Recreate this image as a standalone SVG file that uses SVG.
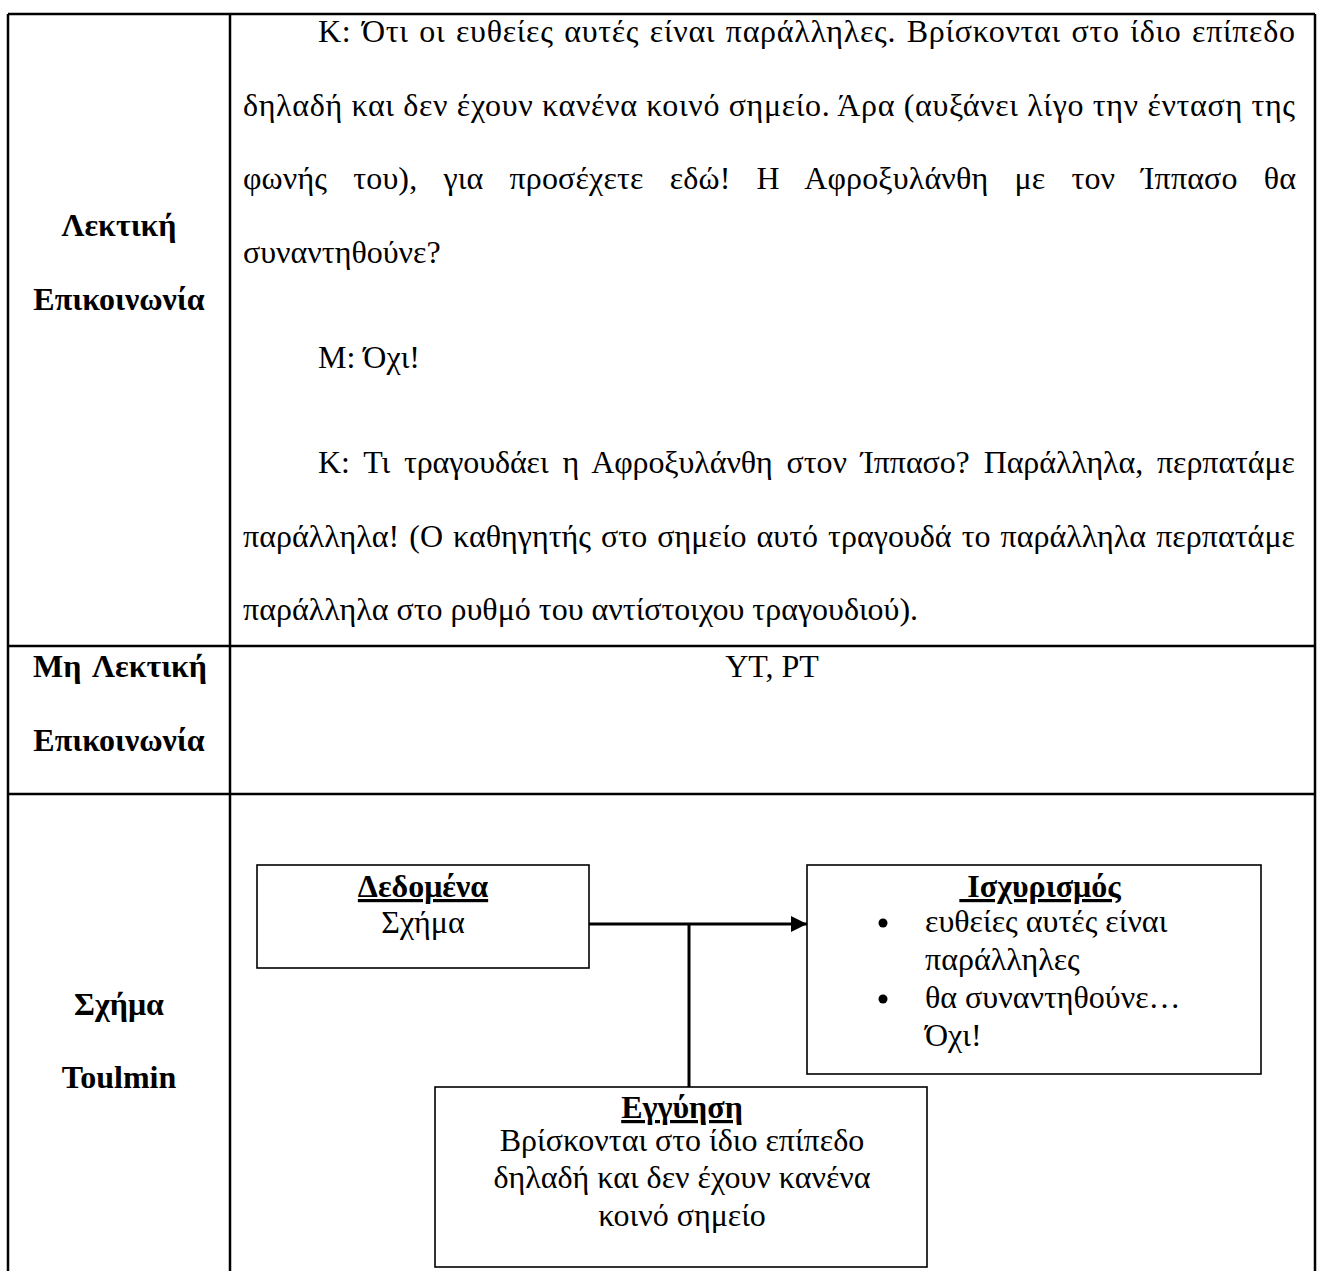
<svg xmlns="http://www.w3.org/2000/svg" width="1323" height="1271" viewBox="0 0 1323 1271">
  <style>
    .grid { stroke: #000; stroke-width: 2.5; fill: none; }
    .box { stroke: #000; stroke-width: 1.6; fill: #fff; }
    .wire { stroke: #000; stroke-width: 3; fill: none; }
    text { font-family: "Liberation Serif", "Times New Roman", serif; font-size: 32px; fill: #000; }
    .lbl { font-weight: bold; }
    .mid { text-anchor: middle; }
    .end { text-anchor: end; }
    .head { font-weight: bold; text-decoration: underline; }
  </style>
  <defs>
    <marker id="arrow" viewBox="0 0 16 16" refX="16" refY="8" markerWidth="16" markerHeight="16" markerUnits="userSpaceOnUse" orient="auto">
      <path d="M0,0 L16,8 L0,16 Z" fill="#000"/>
    </marker>
  </defs>

  <rect width="1323" height="1271" fill="#fff"/>

  <!-- table rules -->
  <g id="table">
    <line class="grid" x1="8" y1="14" x2="1315" y2="14"/>
    <line class="grid" x1="8" y1="14" x2="8" y2="1271"/>
    <line class="grid" x1="230" y1="14" x2="230" y2="1271"/>
    <line class="grid" x1="1315" y1="14" x2="1315" y2="1271"/>
    <line class="grid" x1="8" y1="646" x2="1315" y2="646"/>
    <line class="grid" x1="8" y1="794" x2="1315" y2="794"/>
  </g>

  <!-- row 1: verbal communication -->
  <g id="row-verbal">
    <text class="lbl mid" x="119" y="236">Λεκτική</text>
    <text class="lbl mid" x="119" y="310">Επικοινωνία</text>

    <text x="318" y="42" word-spacing="2" textLength="977" lengthAdjust="spacing">Κ: Ότι οι ευθείες αυτές είναι παράλληλες. Βρίσκονται στο ίδιο επίπεδο</text>
    <text x="243" y="116" textLength="1052" lengthAdjust="spacing">δηλαδή και δεν έχουν κανένα κοινό σημείο. Άρα (αυξάνει λίγο την ένταση της</text>
    <text x="243" y="189" word-spacing="18" textLength="1053" lengthAdjust="spacing">φωνής του), για προσέχετε εδώ! Η Αφροξυλάνθη με τον Ίππασο θα</text>
    <text x="243" y="263">συναντηθούνε?</text>
    <text x="318" y="368">Μ: Όχι!</text>
    <text x="318" y="473" word-spacing="6" textLength="977" lengthAdjust="spacing">Κ: Τι τραγουδάει η Αφροξυλάνθη στον Ίππασο? Παράλληλα, περπατάμε</text>
    <text x="243" y="547" word-spacing="2" textLength="1052" lengthAdjust="spacing">παράλληλα! (Ο καθηγητής στο σημείο αυτό τραγουδά το παράλληλα περπατάμε</text>
    <text x="243" y="620">παράλληλα στο ρυθμό του αντίστοιχου τραγουδιού).</text>
  </g>

  <!-- row 2: non-verbal communication -->
  <g id="row-nonverbal">
    <text class="lbl" x="33" y="677">Μη</text>
    <text class="lbl end" x="207" y="677">Λεκτική</text>
    <text class="lbl mid" x="119" y="751">Επικοινωνία</text>
    <text class="mid" x="772" y="677">YT, PT</text>
  </g>

  <!-- row 3: Toulmin scheme -->
  <g id="row-toulmin">
    <text class="lbl mid" x="119" y="1015">Σχήμα</text>
    <text class="lbl mid" x="119" y="1088">Toulmin</text>
  </g>

  <!-- connectors: data -> claim, warrant joins the arrow -->
  <g id="connectors">
    <line class="wire" x1="589" y1="924" x2="807" y2="924" marker-end="url(#arrow)"/>
    <line class="wire" x1="689" y1="924" x2="689" y2="1087"/>
  </g>

  <g id="data">
    <rect class="box" x="257" y="865" width="332" height="103"/>
    <text class="head mid" x="423" y="897">Δεδομένα</text>
    <text class="mid" x="423" y="933">Σχήμα</text>
  </g>

  <g id="claim">
    <rect class="box" x="807" y="865" width="454" height="209"/>
    <text class="head mid" x="1040" y="897">&#160;Ισχυρισμός</text>
    <circle cx="883" cy="923" r="4.5"/>
    <text x="925" y="932">ευθείες αυτές είναι</text>
    <text x="925" y="970">παράλληλες</text>
    <circle cx="883" cy="999" r="4.5"/>
    <text x="925" y="1008">θα συναντηθούνε…</text>
    <text x="925" y="1046">Όχι!</text>
  </g>

  <g id="warrant">
    <rect class="box" x="435" y="1087" width="492" height="180"/>
    <text class="head mid" x="682" y="1118">Εγγύηση</text>
    <text class="mid" x="682" y="1151">Βρίσκονται στο ίδιο επίπεδο</text>
    <text class="mid" x="682" y="1188">δηλαδή και δεν έχουν κανένα</text>
    <text class="mid" x="682" y="1226">κοινό σημείο</text>
  </g>
</svg>
